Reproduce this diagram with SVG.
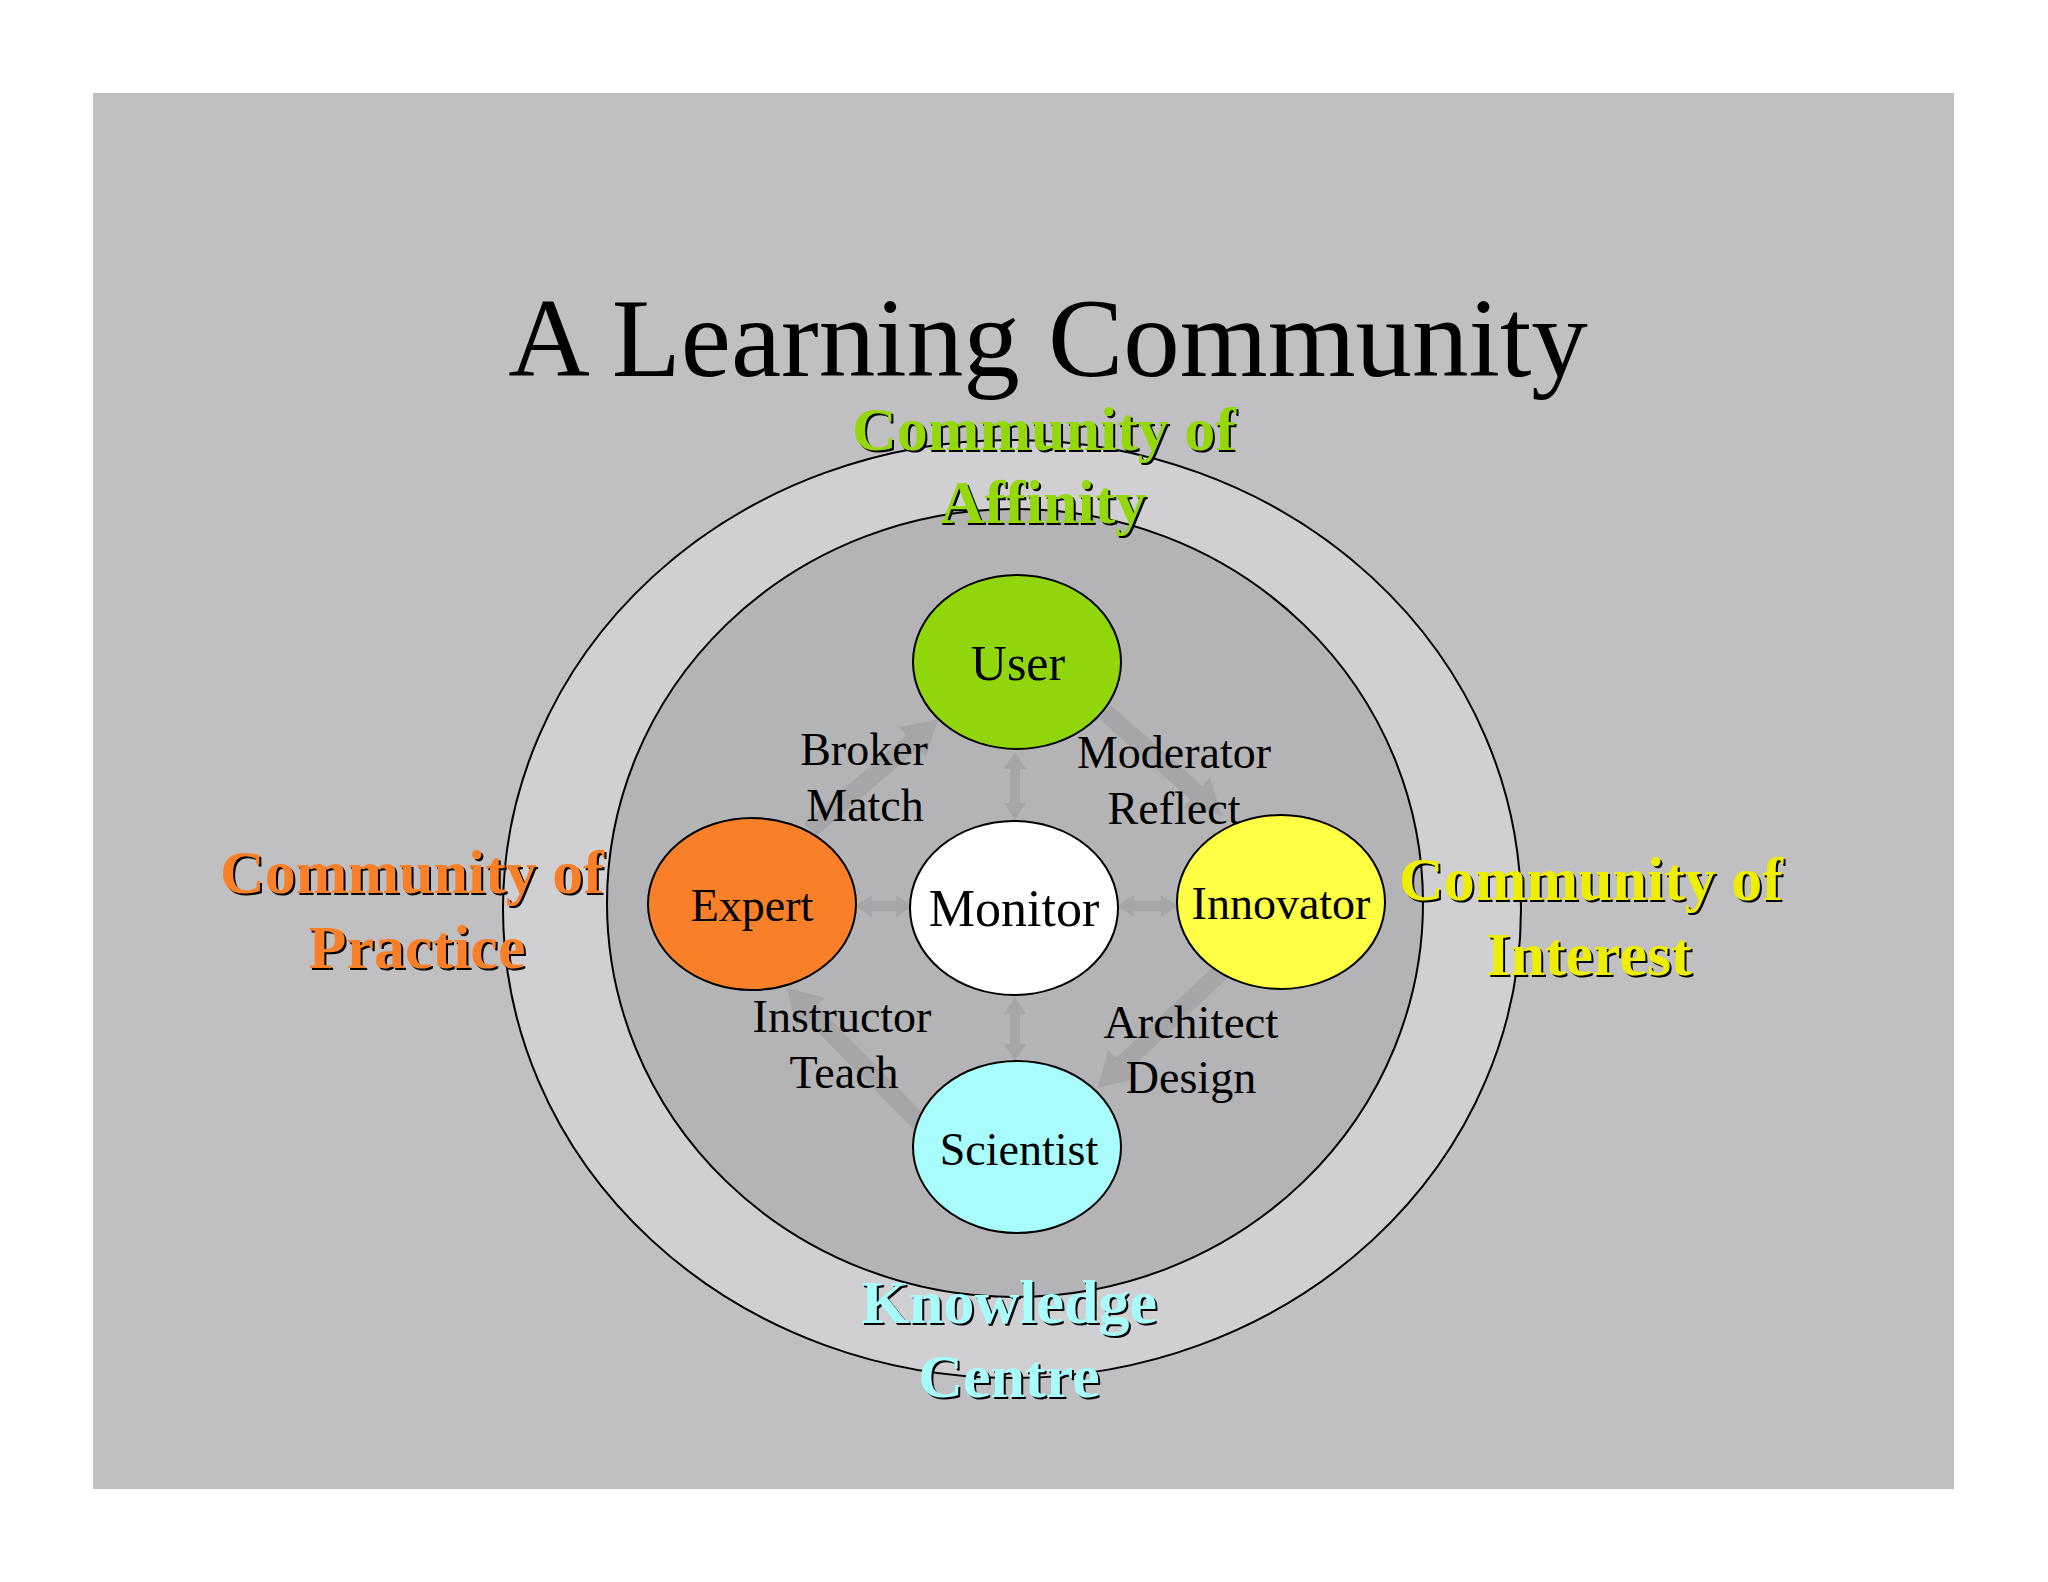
<svg xmlns="http://www.w3.org/2000/svg" width="2048" height="1582" viewBox="0 0 2048 1582">
<style>
.node{stroke:#000;stroke-width:2}
.lbl{font-family:"Liberation Serif","Times New Roman",serif;font-size:46px;fill:#000;text-anchor:middle}
.comm{font-family:"Liberation Serif","Times New Roman",serif;font-size:62px;font-weight:bold;text-anchor:middle}
.sh{fill:#000}
.conn{fill:#a6a5a7}
</style>
<rect x="0" y="0" width="2048" height="1582" fill="#ffffff"/>
<rect x="93" y="93" width="1861" height="1396" fill="#c0bfc1"/>
<text x="1048" y="376" font-family="'Liberation Serif','Times New Roman',serif" font-size="113" text-anchor="middle" fill="#000">A Learning Community</text>
<g id="rings">
<ellipse cx="1012" cy="909" rx="509" ry="469" fill="#d0cfd1" stroke="#000" stroke-width="2"/>
<ellipse cx="1015" cy="903" rx="408" ry="394" fill="#b4b3b5" stroke="#000" stroke-width="2"/>
</g>
<g id="connectors">
<path class="conn" transform="translate(810,830) rotate(-40.7)" d="M0,-9 L135,-9 L135,-20 L169,0 L135,20 L135,9 L0,9 Z"/>
<path class="conn" transform="translate(1105,712) rotate(41.4)" d="M0,-9 L122,-9 L122,-20 L156,0 L122,20 L122,9 L0,9 Z"/>
<path class="conn" transform="translate(1225,968) rotate(136.8)" d="M0,-9 L141,-9 L141,-20 L175,0 L141,20 L141,9 L0,9 Z"/>
<path class="conn" transform="translate(925,1128) rotate(-134.6)" d="M0,-9 L163,-9 L163,-20 L197,0 L163,20 L163,9 L0,9 Z"/>
<path class="conn" transform="translate(1015,752) rotate(90)" d="M0,0 L17,-11 L17,-5 L51,-5 L51,-11 L68,0 L51,11 L51,5 L17,5 L17,11 Z"/>
<path class="conn" transform="translate(1015,997) rotate(90)" d="M0,0 L17,-11 L17,-5 L47,-5 L47,-11 L64,0 L47,11 L47,5 L17,5 L17,11 Z"/>
<path class="conn" transform="translate(855,906)" d="M0,0 L17,-11 L17,-5 L41,-5 L41,-11 L58,0 L41,11 L41,5 L17,5 L17,11 Z"/>
<path class="conn" transform="translate(1117,906)" d="M0,0 L17,-11 L17,-5 L44,-5 L44,-11 L61,0 L44,11 L44,5 L17,5 L17,11 Z"/>
</g>
<g id="connector-labels">
<text class="lbl" x="864" y="765">Broker</text>
<text class="lbl" x="865" y="821">Match</text>
<text class="lbl" x="1174" y="768">Moderator</text>
<text class="lbl" x="1174" y="824">Reflect</text>
<text class="lbl" x="842" y="1032">Instructor</text>
<text class="lbl" x="844" y="1088">Teach</text>
<text class="lbl" x="1191" y="1038" style="font-size:47px">Architect</text>
<text class="lbl" x="1191" y="1093">Design</text>
</g>
<g id="user">
<ellipse class="node" cx="1017" cy="662" rx="104" ry="87" fill="#91d60a"/>
<text class="lbl" x="1018" y="680" style="font-size:50px">User</text>
</g>
<g id="expert">
<ellipse class="node" cx="752" cy="904" rx="104" ry="86" fill="#f98029"/>
<text class="lbl" x="752" y="921">Expert</text>
</g>
<g id="monitor">
<ellipse class="node" cx="1014" cy="908" rx="104" ry="87" fill="#ffffff"/>
<text class="lbl" x="1014" y="926" style="font-size:52px">Monitor</text>
</g>
<g id="innovator">
<ellipse class="node" cx="1281" cy="902" rx="104" ry="87" fill="#ffff44"/>
<text class="lbl" x="1281" y="919">Innovator</text>
</g>
<g id="scientist">
<ellipse class="node" cx="1017" cy="1147" rx="104" ry="86" fill="#a8fcfc"/>
<text class="lbl" x="1019" y="1165">Scientist</text>
</g>
<g id="community-affinity">
<text class="comm sh" x="1046" y="452">Community of</text>
<text class="comm sh" x="1045" y="525">Affinity</text>
<text class="comm" x="1044" y="450" fill="#94d80c">Community of</text>
<text class="comm" x="1043" y="523" fill="#94d80c">Affinity</text>
</g>
<g id="community-practice">
<text class="comm sh" x="414" y="895">Community of</text>
<text class="comm sh" x="419" y="970">Practice</text>
<text class="comm" x="412" y="893" fill="#f98029">Community of</text>
<text class="comm" x="417" y="968" fill="#f98029">Practice</text>
</g>
<g id="community-interest">
<text class="comm sh" x="1593" y="902">Community of</text>
<text class="comm sh" x="1591" y="977">Interest</text>
<text class="comm" x="1591" y="900" fill="#eeee00">Community of</text>
<text class="comm" x="1589" y="975" fill="#eeee00">Interest</text>
</g>
<g id="knowledge-centre">
<text class="comm sh" x="1011" y="1325">Knowledge</text>
<text class="comm sh" x="1011" y="1399">Centre</text>
<text class="comm" x="1009" y="1323" fill="#a8fcfc">Knowledge</text>
<text class="comm" x="1009" y="1397" fill="#a8fcfc">Centre</text>
</g>
</svg>
